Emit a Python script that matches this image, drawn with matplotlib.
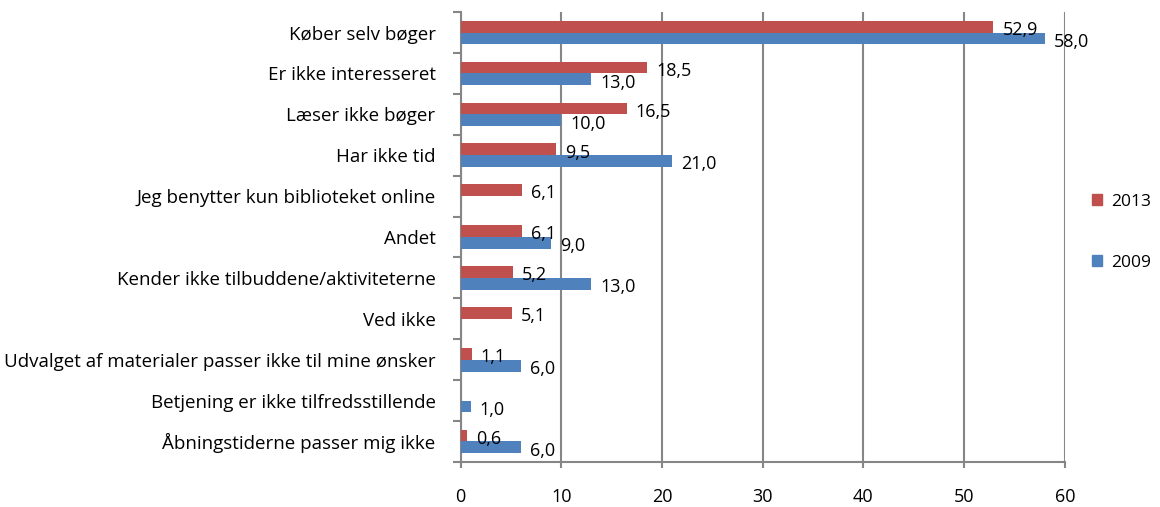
import matplotlib.pyplot as plt
import numpy as np
from matplotlib.patches import Patch

categories = [
    "Køber selv bøger",
    "Er ikke interesseret",
    "Læser ikke bøger",
    "Har ikke tid",
    "Jeg benytter kun biblioteket online",
    "Andet",
    "Kender ikke tilbuddene/aktiviteterne",
    "Ved ikke",
    "Udvalget af materialer passer ikke til mine ønsker",
    "Betjening er ikke tilfredsstillende",
    "Åbningstiderne passer mig ikke",
]
v2013 = [52.9, 18.5, 16.5, 9.5, 6.1, 6.1, 5.2, 5.1, 1.1, None, 0.6]
v2009 = [58.0, 13.0, 10.0, 21.0, None, 9.0, 13.0, None, 6.0, 1.0, 6.0]

red = "#c0504d"
blue = "#4f81bd"
grid_col = "#868686"
fs = 13

plt.rcParams['font.family'] = ['Open Sans', 'DejaVu Sans']

fig = plt.figure(figsize=(11.6, 5.07), dpi=100)
ax = fig.add_axes([0.397, 0.089, 0.521, 0.887])

n = len(categories)
y = np.arange(n)
h = 0.29

def draw(vals, offset, color):
    for i, v in enumerate(vals):
        if v is None:
            continue
        ax.barh(y[i] + offset, v, height=h, color=color, zorder=3)
        ax.text(v + 0.9, y[i] + offset + 0.08, f"{v:.1f}".replace(".", ","),
                va="center", ha="left", fontsize=fs, zorder=4)

draw(v2013, -h / 2, red)
draw(v2009, h / 2, blue)

ax.set_xlim(0, 60)
ax.set_ylim(n - 0.5, -0.5)
ax.set_xticks(range(0, 61, 10))
ax.xaxis.grid(True, color=grid_col, linewidth=1.5, zorder=0)
ax.set_yticks(y)
ax.set_yticklabels(categories, fontsize=13.5)
ax.set_yticks(np.arange(-0.5, n, 1), minor=True)
ax.tick_params(axis="y", which="major", length=0, pad=18)
ax.tick_params(axis="y", which="minor", length=6, color=grid_col, width=1.5)
ax.tick_params(axis="x", length=4, color=grid_col, width=1.5, pad=15, labelsize=fs)

for s in ["top", "right"]:
    ax.spines[s].set_visible(False)
for s in ["left", "bottom"]:
    ax.spines[s].set_color(grid_col)
    ax.spines[s].set_linewidth(1.5)

handles = [Patch(color=red, label="2013"), Patch(color=blue, label="2009")]
fig.legend(handles=handles, loc="center left", bbox_to_anchor=(0.941, 0.542),
           frameon=False, fontsize=12.5, handlelength=0.6, handleheight=0.6,
           labelspacing=2.6, handletextpad=0.5, borderpad=0, borderaxespad=0)

fig.savefig("out.png", dpi=100)
